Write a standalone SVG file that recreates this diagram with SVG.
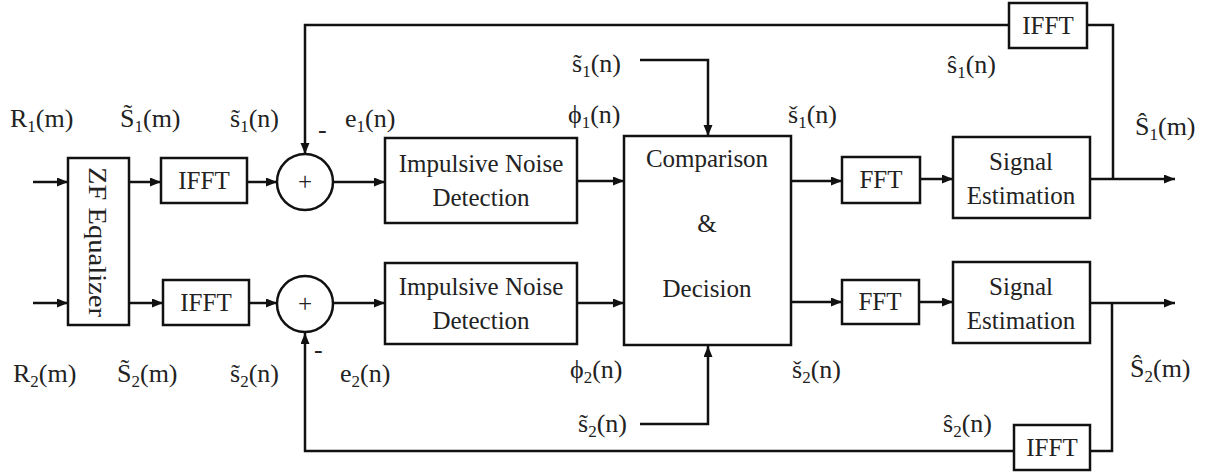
<svg xmlns="http://www.w3.org/2000/svg" width="1214" height="475" viewBox="0 0 1214 475">
<defs>
<marker id="ah" markerWidth="12" markerHeight="10" refX="11" refY="4.5" orient="auto" markerUnits="userSpaceOnUse">
<path d="M0,0 L11,4.5 L0,9 z" fill="#111"/>
</marker>
<style>
.box{fill:#fff;stroke:#111;stroke-width:2.5}
.ln{fill:none;stroke:#111;stroke-width:2.5}
.ar{fill:none;stroke:#111;stroke-width:2.5;marker-end:url(#ah)}
.t{font-family:"Liberation Serif","DejaVu Serif",serif;font-size:25px;fill:#222;text-anchor:middle}
.lb{font-family:"Liberation Serif","DejaVu Serif",serif;font-size:26px;fill:#222}
.sub{font-size:17px}
</style>
</defs>
<rect width="1214" height="475" fill="#fff"/>

<g id="connectors">
<path class="ar" d="M33,182 H68"/>
<path class="ar" d="M33,303 H68"/>
<path class="ar" d="M129,182 H161"/>
<path class="ar" d="M129,303 H163"/>
<path class="ar" d="M247,182 H277"/>
<path class="ar" d="M249,303 H277"/>
<path class="ar" d="M333,182 H385"/>
<path class="ar" d="M333,303 H385"/>
<path class="ar" d="M577,181 H624"/>
<path class="ar" d="M577,303 H624"/>
<path class="ar" d="M791,181 H842"/>
<path class="ar" d="M791,302 H842"/>
<path class="ar" d="M920,179 H953"/>
<path class="ar" d="M919,302 H953"/>
<path class="ar" d="M1090,179 H1175"/>
<path class="ar" d="M1090,303 H1175"/>
<path class="ln" d="M1113,179 V25 H1087"/>
<path class="ar" d="M1009,25 H305 V154"/>
<path class="ln" d="M1112,303 V451 H1090"/>
<path class="ar" d="M1014,451 H305 V333"/>
<path class="ar" d="M640,60 H708 V136"/>
<path class="ar" d="M640,424 H708 V346"/>
</g>

<g id="zf">
<rect class="box" x="68" y="158" width="61" height="167"/>
<text class="t" transform="translate(98,242) rotate(90)" dy="9" textLength="150" lengthAdjust="spacingAndGlyphs">ZF Equalizer</text>
</g>
<g id="ifft1">
<rect class="box" x="161" y="158" width="86" height="45"/>
<text class="t" x="204" y="189">IFFT</text>
</g>
<g id="ifft2">
<rect class="box" x="163" y="280" width="86" height="45"/>
<text class="t" x="206" y="311">IFFT</text>
</g>
<g id="sum1">
<circle class="box" cx="305" cy="182" r="28"/>
<text class="t" x="305" y="190">+</text>
</g>
<g id="sum2">
<circle class="box" cx="305" cy="304" r="28"/>
<text class="t" x="305" y="312">+</text>
</g>
<g id="ind1">
<rect class="box" x="385" y="138" width="192" height="85"/>
<text class="t" x="481" y="172">Impulsive Noise</text>
<text class="t" x="481" y="206">Detection</text>
</g>
<g id="ind2">
<rect class="box" x="385" y="263" width="192" height="81"/>
<text class="t" x="481" y="295">Impulsive Noise</text>
<text class="t" x="481" y="329">Detection</text>
</g>
<g id="comp">
<rect class="box" x="624" y="136" width="167" height="209"/>
<text class="t" x="707" y="167">Comparison</text>
<text class="t" x="707" y="232">&amp;</text>
<text class="t" x="707" y="297">Decision</text>
</g>
<g id="fft1">
<rect class="box" x="842" y="157" width="78" height="46"/>
<text class="t" x="881" y="188">FFT</text>
</g>
<g id="fft2">
<rect class="box" x="842" y="280" width="77" height="44"/>
<text class="t" x="880" y="310">FFT</text>
</g>
<g id="se1">
<rect class="box" x="953" y="137" width="137" height="81"/>
<text class="t" x="1021" y="170">Signal</text>
<text class="t" x="1021" y="204">Estimation</text>
</g>
<g id="se2">
<rect class="box" x="953" y="262" width="137" height="81"/>
<text class="t" x="1021" y="295">Signal</text>
<text class="t" x="1021" y="329">Estimation</text>
</g>
<g id="ifft3">
<rect class="box" x="1009" y="3" width="78" height="45"/>
<text class="t" x="1048" y="34">IFFT</text>
</g>
<g id="ifft4">
<rect class="box" x="1014" y="425" width="76" height="45"/>
<text class="t" x="1052" y="456">IFFT</text>
</g>

<g id="labels">
<text class="lb" x="10" y="127">R<tspan class="sub" dy="5">1</tspan><tspan dy="-5">(m)</tspan></text>
<text class="lb" x="120" y="127">S&#771;<tspan class="sub" dy="5">1</tspan><tspan dy="-5">(m)</tspan></text>
<text class="lb" x="230" y="127">s&#771;<tspan class="sub" dy="5">1</tspan><tspan dy="-5">(n)</tspan></text>
<text class="lb" x="345" y="127">e<tspan class="sub" dy="5">1</tspan><tspan dy="-5">(n)</tspan></text>
<text class="lb" x="318" y="138">-</text>
<text class="lb" x="13" y="382">R<tspan class="sub" dy="5">2</tspan><tspan dy="-5">(m)</tspan></text>
<text class="lb" x="117" y="382">S&#771;<tspan class="sub" dy="5">2</tspan><tspan dy="-5">(m)</tspan></text>
<text class="lb" x="230" y="382">s&#771;<tspan class="sub" dy="5">2</tspan><tspan dy="-5">(n)</tspan></text>
<text class="lb" x="340" y="382">e<tspan class="sub" dy="5">2</tspan><tspan dy="-5">(n)</tspan></text>
<text class="lb" x="314" y="358">-</text>
<text class="lb" x="572" y="72">s&#771;<tspan class="sub" dy="5">1</tspan><tspan dy="-5">(n)</tspan></text>
<text class="lb" x="568" y="123">&#981;<tspan class="sub" dy="5">1</tspan><tspan dy="-5">(n)</tspan></text>
<text class="lb" x="788" y="123">&#353;<tspan class="sub" dy="5">1</tspan><tspan dy="-5">(n)</tspan></text>
<text class="lb" x="570" y="378">&#981;<tspan class="sub" dy="5">2</tspan><tspan dy="-5">(n)</tspan></text>
<text class="lb" x="792" y="378">&#353;<tspan class="sub" dy="5">2</tspan><tspan dy="-5">(n)</tspan></text>
<text class="lb" x="578" y="432">s&#771;<tspan class="sub" dy="5">2</tspan><tspan dy="-5">(n)</tspan></text>
<text class="lb" x="947" y="73">&#349;<tspan class="sub" dy="5">1</tspan><tspan dy="-5">(n)</tspan></text>
<text class="lb" x="1135" y="135">&#348;<tspan class="sub" dy="5">1</tspan><tspan dy="-5">(m)</tspan></text>
<text class="lb" x="943" y="432">&#349;<tspan class="sub" dy="5">2</tspan><tspan dy="-5">(n)</tspan></text>
<text class="lb" x="1130" y="377">&#348;<tspan class="sub" dy="5">2</tspan><tspan dy="-5">(m)</tspan></text>
</g>
</svg>
